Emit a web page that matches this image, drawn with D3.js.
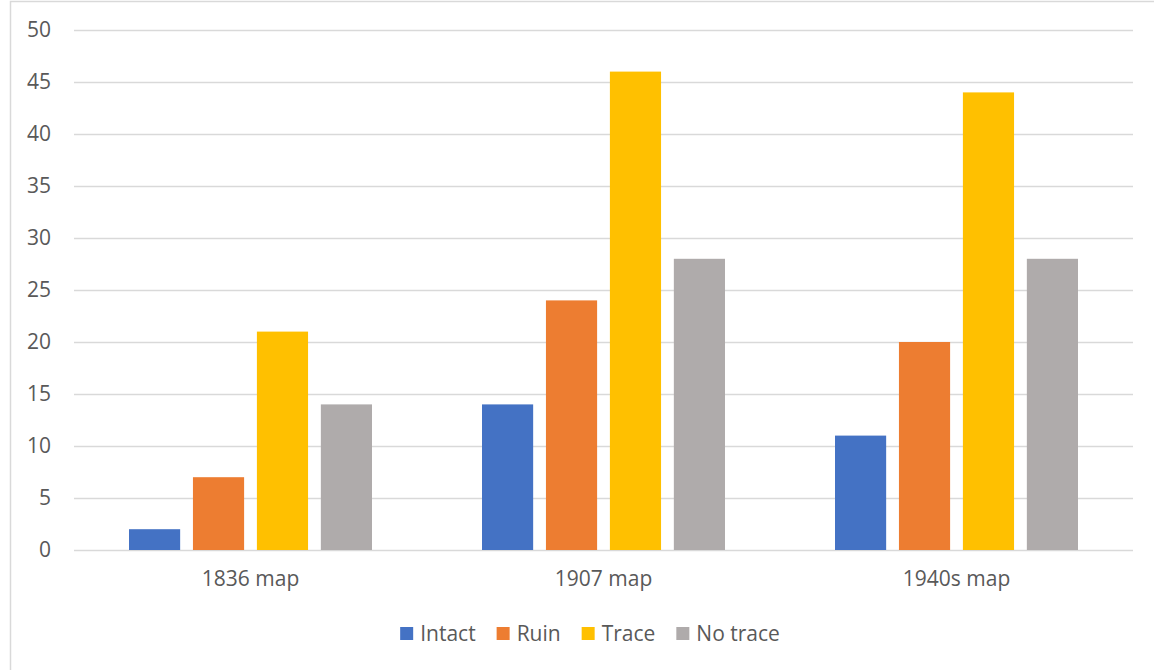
<!DOCTYPE html>
<html>
<head>
<meta charset="utf-8">
<script src="https://cdn.jsdelivr.net/npm/d3@7"></script>
<style>
  html, body { margin: 0; padding: 0; background: #fff; }
  svg { display: block; font-family: "Open Sans", "DejaVu Sans", sans-serif; }
</style>
</head>
<body>
<svg id="chart" width="1154" height="670"></svg>
<script>
// Categories, series and values
const categories = ["1836 map", "1907 map", "1940s map"];
const seriesNames = ["Intact", "Ruin", "Trace", "No trace"];
const intact  = [2, 14, 11];
const ruin    = [7, 24, 20];
const trace   = [21, 46, 44];
const noTrace = [14, 28, 28];
const yTicks  = [0, 5, 10, 15, 20, 25, 30, 35, 40, 45, 50];
const colors  = ["#4472C4", "#ED7D31", "#FFC000", "#AFABAB"];

const seriesValues = [intact, ruin, trace, noTrace];
const fontSize = "21px";

const svg = d3.select("#chart");
const plot = { left: 74, right: 1133, top: 30, bottom: 550 };

// Chart area outline
svg.append("rect")
  .attr("x", 10.5).attr("y", 1.5)
  .attr("width", 1300).attr("height", 800)
  .attr("fill", "#fff")
  .attr("stroke", "#d9d9d9").attr("stroke-width", 1.5);

const y = d3.scaleLinear().domain([0, 50]).range([plot.bottom, plot.top]);
const x0 = d3.scaleBand().domain(categories).range([plot.left, plot.right]).paddingInner(0).paddingOuter(0);
const x1 = d3.scaleBand().domain(seriesNames)
  .range([55, x0.bandwidth() - 55])
  .paddingInner(0.2).paddingOuter(0);

// Gridlines
svg.append("g").selectAll("line").data(yTicks).join("line")
  .attr("x1", plot.left).attr("x2", plot.right)
  .attr("y1", d => Math.round(y(d)) + 0.5).attr("y2", d => Math.round(y(d)) + 0.5)
  .attr("stroke", "#d9d9d9").attr("stroke-width", 1.5);

// Value axis
const yAxis = svg.append("g")
  .attr("transform", `translate(${plot.left - 23},0)`)
  .call(d3.axisLeft(y).tickValues(yTicks).tickSize(0).tickPadding(0));
yAxis.select(".domain").remove();
yAxis.selectAll("text")
  .attr("fill", "#595959")
  .style("font-size", fontSize)
  .style("font-family", "\"Open Sans\", sans-serif");

// Bars
const groups = svg.append("g").selectAll("g").data(categories).join("g")
  .attr("transform", d => `translate(${x0(d)},0)`);
groups.selectAll("rect")
  .data((c, ci) => seriesNames.map((s, si) => ({ s, si, v: seriesValues[si][ci] })))
  .join("rect")
  .attr("x", d => x1(d.s))
  .attr("y", d => y(d.v))
  .attr("width", x1.bandwidth())
  .attr("height", d => y(0) - y(d.v))
  .attr("fill", d => colors[d.si]);

// Category axis labels
const xAxis = svg.append("g")
  .attr("transform", `translate(0,${plot.bottom})`)
  .call(d3.axisBottom(x0).tickSize(0).tickPadding(21));
xAxis.select(".domain").remove();
xAxis.selectAll("text")
  .attr("fill", "#595959")
  .style("font-size", fontSize)
  .style("font-family", "\"Open Sans\", sans-serif");

// Legend
const legend = svg.append("g");
const items = legend.selectAll("g").data(seriesNames).join("g");
items.append("rect")
  .attr("width", 13).attr("height", 13)
  .attr("y", -7)
  .attr("fill", (d, i) => colors[i]);
items.append("text")
  .attr("x", 20).attr("dy", "0.35em")
  .attr("fill", "#595959")
  .style("font-size", fontSize)
  .text(d => d);
let cursor = 0;
items.each(function () {
  const g = d3.select(this);
  g.attr("transform", `translate(${cursor},0)`);
  cursor += 20 + g.select("text").node().getComputedTextLength() + 21;
});
const legendWidth = cursor - 21;
legend.attr("transform", `translate(${590 - legendWidth / 2},634)`);
</script>
</body>
</html>
